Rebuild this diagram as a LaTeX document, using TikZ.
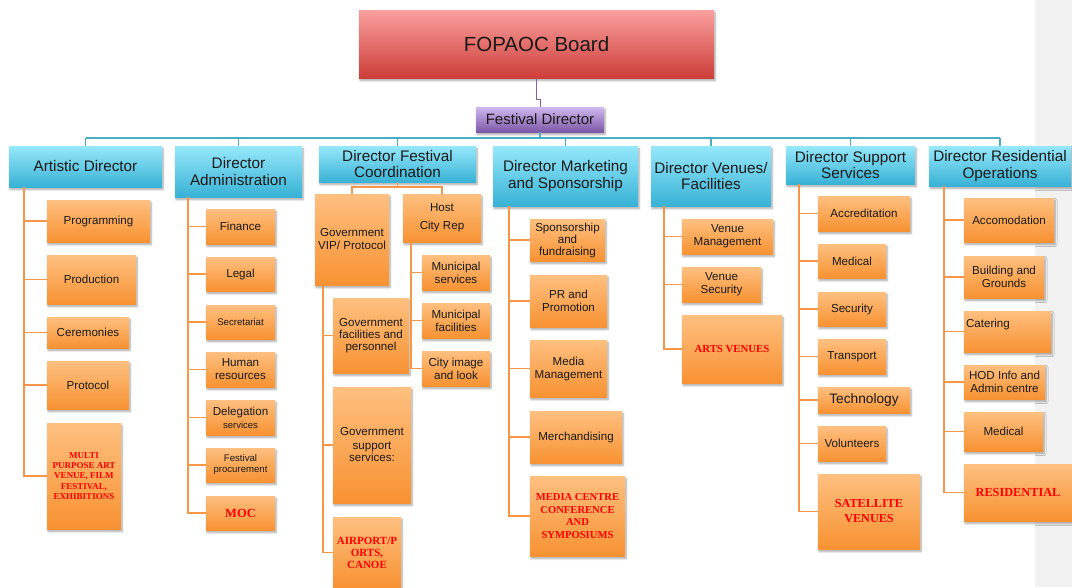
\documentclass[tikz,border=0pt]{standalone}
\usepackage{fontspec}
\setmainfont{Liberation Sans}
\newfontfamily\redserif{Liberation Serif}
\usetikzlibrary{shadows.blur}
\definecolor{ctop}{RGB}{150,232,250}
\definecolor{cbot}{RGB}{56,178,214}
\definecolor{otop}{RGB}{254,192,128}
\definecolor{obot}{RGB}{248,146,50}
\definecolor{rtop}{RGB}{250,160,158}
\definecolor{rbot}{RGB}{206,62,57}
\definecolor{ptop}{RGB}{208,184,238}
\definecolor{pbot}{RGB}{124,88,168}
\definecolor{tlinec}{RGB}{75,172,198}
\definecolor{olinec}{RGB}{247,150,70}
\definecolor{plinec}{RGB}{128,100,162}
\definecolor{redtxt}{RGB}{255,0,0}
\definecolor{txt}{RGB}{25,25,25}
\definecolor{strip}{RGB}{242,242,242}
\newcommand\mkbox[7]{\node[#6,minimum width={#4-#2},minimum height={#5-#3}] (#1) at ({(#2+#4)/2},{(#3+#5)/2}) {#7};}
\tikzset{
  base/.style={inner sep=1pt, align=center, text=txt,
    blur shadow={shadow xshift=1pt, shadow yshift=-2.5pt, shadow blur steps=6, shadow blur radius=2pt, shadow opacity=35}},
  boardbox/.style={base, top color=rtop, bottom color=rbot, font=\fontsize{20.5}{22}\selectfont},
  fdbox/.style={base, top color=ptop, bottom color=pbot, font=\fontsize{15}{16}\selectfont},
  dirbox/.style={base, top color=ctop, bottom color=cbot, font=\fontsize{15.3}{16.5}\selectfont},
  obox/.style={base, top color=otop, bottom color=obot, font=\fontsize{11.6}{13}\selectfont},
  rbox/.style={obox, text=redtxt},
  tl/.style={draw=tlinec, line width=1.6pt},
  ol/.style={draw=olinec, line width=1.8pt},
  pl/.style={draw=plinec, line width=1pt},
}
\begin{document}
\begin{tikzpicture}[x=1pt,y=-1pt]
\useasboundingbox (0,0) rectangle (1072,587);
\fill[strip] (1035,0) rectangle (1072,587);
% top
\mkbox{board}{359}{10}{714}{78}{boardbox}{FOPAOC Board}
\mkbox{fd}{476}{107}{604}{132}{fdbox}{Festival Director}
% directors
\mkbox{art}{9}{146}{162}{187}{dirbox}{Artistic Director}
\mkbox{adm}{175}{146}{302}{197}{dirbox}{Director\\Administration}
\mkbox{fdc}{319}{146}{476}{182}{dirbox}{Director Festival\\Coordination}
\mkbox{mkt}{493}{146}{638}{206}{dirbox}{Director Marketing\\and Sponsorship}
\mkbox{ven}{651}{146}{771}{206}{dirbox}{Director Venues/\\Facilities}
\mkbox{sup}{786}{146}{915}{184}{dirbox}{Director Support\\Services}
\mkbox{res}{929}{146}{1071}{186}{dirbox}{Director Residential\\Operations}
% artistic
\mkbox{prog}{47}{200}{150}{242}{obox}{Programming}
\mkbox{prod}{47}{255}{136}{304}{obox}{Production}
\mkbox{cer}{47}{317}{129}{348}{obox}{Ceremonies}
\mkbox{prot}{47}{361}{129}{409}{obox}{Protocol}
\mkbox{multi}{47}{423}{121}{529}{rbox,font=\redserif\bfseries\fontsize{9}{10.4}\selectfont}{MULTI\\PURPOSE ART\\VENUE, FILM\\FESTIVAL,\\EXHIBITIONS}
% administration
\mkbox{fin}{206}{209}{275}{244}{obox}{Finance}
\mkbox{leg}{206}{257}{275}{291}{obox}{Legal}
\mkbox{sec}{206}{305}{275}{339}{obox,font=\fontsize{9.6}{11}\selectfont}{Secretariat}
\mkbox{hum}{206}{352}{275}{387}{obox}{Human\\resources}
\mkbox{del}{206}{400}{275}{435}{obox}{Delegation\\{\fontsize{9.5}{11}\selectfont services}}
\mkbox{proc}{206}{448}{275}{482}{obox,font=\fontsize{9.6}{11}\selectfont}{Festival\\procurement}
\mkbox{moc}{206}{496}{275}{530}{rbox,font=\redserif\bfseries\fontsize{12.5}{14}\selectfont}{MOC}
% festival coordination
\mkbox{gvip}{315}{194}{389}{285}{obox}{Government\\VIP/ Protocol}
\mkbox{host}{403}{194}{481}{242}{obox,font=\fontsize{11.6}{18}\selectfont}{Host\\City Rep}
\mkbox{msv}{422}{255}{490}{290}{obox}{Municipal\\services}
\mkbox{mfac}{422}{303}{490}{338}{obox}{Municipal\\facilities}
\mkbox{city}{422}{351}{490}{386}{obox}{City image\\and look}
\mkbox{gfac}{333}{298}{409}{373}{obox,font=\fontsize{11.6}{12}\selectfont}{Government\\facilities and\\personnel}
\mkbox{gsup}{333}{387}{411}{503}{obox}{Government\\support\\services:}
\mkbox{air}{333}{517}{401}{588}{rbox,font=\redserif\bfseries\fontsize{11}{12}\selectfont}{AIRPORT/P\\ORTS,\\CANOE}
% marketing
\mkbox{spon}{530}{219}{605}{261}{obox,font=\fontsize{11.6}{12}\selectfont}{Sponsorship\\and\\fundraising}
\mkbox{pr}{530}{275}{607}{327}{obox,font=\fontsize{11.6}{13.5}\selectfont}{PR and\\Promotion}
\mkbox{media}{530}{340}{607}{397}{obox}{Media\\Management}
\mkbox{merch}{530}{411}{622}{463}{obox}{Merchandising}
\mkbox{mcen}{530}{476}{625}{556}{rbox,font=\redserif\bfseries\fontsize{10.6}{12.6}\selectfont}{MEDIA CENTRE\\CONFERENCE\\AND\\SYMPOSIUMS}
% venues
\mkbox{vman}{682}{219}{773}{254}{obox}{Venue\\Management}
\mkbox{vsec}{682}{267}{761}{302}{obox}{Venue\\Security}
\mkbox{arts}{682}{315}{782}{383}{rbox,font=\redserif\bfseries\fontsize{10.8}{12}\selectfont}{ARTS VENUES}
% support
\mkbox{acc}{818}{196}{910}{231}{obox}{Accreditation}
\mkbox{smed}{818}{244}{886}{278}{obox}{Medical}
\mkbox{ssec}{818}{292}{886}{326}{obox}{Security}
\mkbox{trans}{818}{339}{886}{374}{obox}{Transport}
\mkbox{tech}{818}{387}{910}{413}{obox,font=\fontsize{13.7}{15}\selectfont}{Technology}
\mkbox{vol}{818}{426}{886}{461}{obox}{Volunteers}
\mkbox{sat}{818}{474}{920}{549}{rbox,font=\redserif\bfseries\fontsize{12.2}{15}\selectfont}{SATELLITE\\VENUES}
% residential
\mkbox{accom}{964}{198}{1054}{242}{obox}{Accomodation}
\mkbox{bld}{964}{256}{1044}{298}{obox}{Building and\\Grounds}
\mkbox{cat}{964}{311}{1051}{352}{obox,label={[anchor=north west,inner sep=0pt,xshift=2pt,yshift=-8pt,font=\fontsize{11.6}{13}\selectfont,text=txt]north west:Catering}}{}
\mkbox{hod}{964}{365}{1045}{399}{obox}{HOD Info and\\Admin centre}
\mkbox{rmed}{964}{412}{1043}{451}{obox}{Medical}
\mkbox{resi}{964}{464}{1072}{521}{rbox,font=\redserif\bfseries\fontsize{12.3}{14}\selectfont}{RESIDENTIAL}
% connectors: top
\draw[pl] (board.south) -- ++(0,21) -| (fd.north);
\coordinate (bus) at (540,138);
\draw[tl] (fd.south) -- (fd.south |- bus);
\draw[tl] (art.north |- bus) -- (res.north |- bus);
\foreach \d in {art,adm,fdc,mkt,ven,sup,res} \draw[tl] (\d.north) -- (\d.north |- bus);
% branch x positions
\coordinate (artx) at (24,0);
\coordinate (admx) at (188,0);
\coordinate (govx) at (323,0);
\coordinate (hostx) at (411,0);
\coordinate (mktx) at (509,0);
\coordinate (venx) at (664,0);
\coordinate (supx) at (799,0);
\coordinate (resx) at (944,0);
\foreach \c in {prog,prod,cer,prot,multi} \draw[ol] (art.south -| artx) |- (\c.west);
\foreach \c in {fin,leg,sec,hum,del,proc,moc} \draw[ol] (adm.south -| admx) |- (\c.west);
\coordinate (fcbus) at (398,187);
\draw[ol] (fdc.south) -- (fdc.south |- fcbus);
\draw[ol] (gvip.north) |- (host.north |- fcbus) -- (host.north);
\foreach \c in {gfac,gsup,air} \draw[ol] (gvip.south -| govx) |- (\c.west);
\foreach \c in {msv,mfac,city} \draw[ol] (host.south -| hostx) |- (\c.west);
\foreach \c in {spon,pr,media,merch,mcen} \draw[ol] (mkt.south -| mktx) |- (\c.west);
\foreach \c in {vman,vsec,arts} \draw[ol] (ven.south -| venx) |- (\c.west);
\foreach \c in {acc,smed,ssec,trans,tech,vol,sat} \draw[ol] (sup.south -| supx) |- (\c.west);
\foreach \c in {accom,bld,cat,hod,rmed,resi} \draw[ol] (res.south -| resx) |- (\c.west);
\end{tikzpicture}
\end{document}
